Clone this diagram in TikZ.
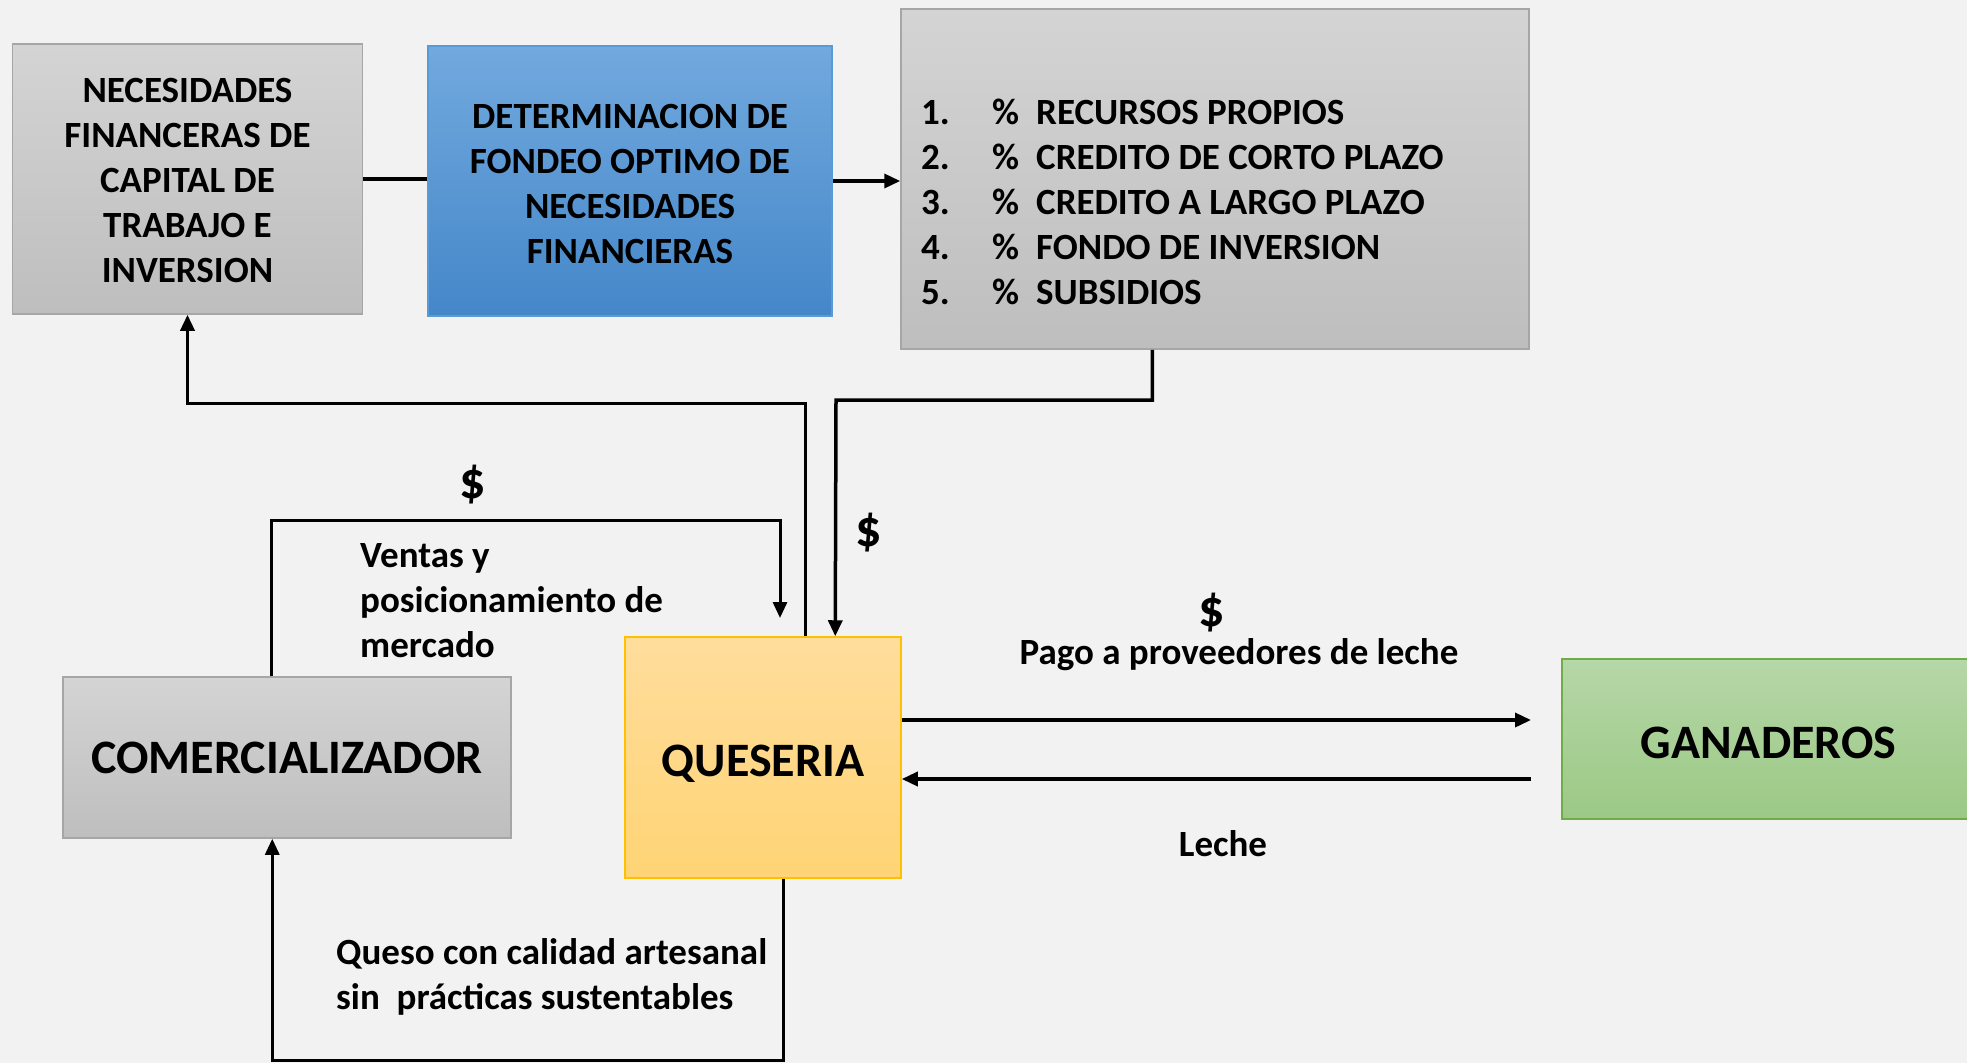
\documentclass[tikz,border=0pt]{standalone}
\usepackage{fontspec}
\setmainfont{Carlito}
\usetikzlibrary{arrows.meta,calc}
\definecolor{bgcol}{HTML}{F2F2F2}
\definecolor{graytop}{HTML}{D4D4D4}
\definecolor{graybot}{HTML}{BEBEBE}
\definecolor{grayedge}{HTML}{A6A6A6}
\definecolor{bluetop}{HTML}{72A9DE}
\definecolor{bluebot}{HTML}{4487C9}
\definecolor{blueedge}{HTML}{5B9BD5}
\definecolor{yeltop}{HTML}{FFDD9C}
\definecolor{yelbot}{HTML}{FFD475}
\definecolor{yeledge}{HTML}{FFC000}
\definecolor{grntop}{HTML}{B6D7A8}
\definecolor{grnbot}{HTML}{9BC985}
\definecolor{grnedge}{HTML}{70AD47}
\newcommand{\lowerby}[2]{\raisebox{-#1}[\height][\depth]{#2}}
\begin{document}
\begin{tikzpicture}[x=1pt,y=-1pt,
  box/.style={draw, line width=1.5pt, inner sep=0pt, align=center, font=\bfseries\fontsize{37}{45}\selectfont},
  graybox/.style={box, draw=grayedge, top color=graytop, bottom color=graybot},
  bigtxt/.style={font=\bfseries\fontsize{48}{56}\selectfont},
  conn/.style={line width=3.5pt, draw=black},
  tip/.style={-{Triangle[length=16pt,width=14pt]}},
  lbl/.style={font=\bfseries\fontsize{37}{45}\selectfont, inner sep=0pt, align=left},
  dollar/.style={font=\bfseries\fontsize{52}{56}\selectfont, inner sep=0pt}]
\fill[bgcol] (0,0) rectangle (1967,1063);
\useasboundingbox (0,0) rectangle (1967,1063);

% boxes
\node[graybox, minimum width=350pt, minimum height=270pt] (nec) at (187.5,179)
  {\lowerby{4pt}{\begin{tabular}{@{}c@{}}NECESIDADES\\FINANCERAS DE\\CAPITAL DE\\TRABAJO E\\INVERSION\end{tabular}}};
\node[box, draw=blueedge, top color=bluetop, bottom color=bluebot, minimum width=404pt, minimum height=270pt] (det) at (630,181)
  {\lowerby{6pt}{\begin{tabular}{@{}c@{}}DETERMINACION DE\\FONDEO OPTIMO DE\\NECESIDADES\\FINANCIERAS\end{tabular}}};
\node[graybox, minimum width=628pt, minimum height=340pt] (list) at (1215,179) {};
\node[anchor=west, inner sep=0pt, font=\bfseries\fontsize{37}{45}\selectfont] (listtxt) at (921,205)
  {\begin{tabular}{@{}p{71pt}@{}p{44pt}@{}l@{}}
   1. & \% & RECURSOS PROPIOS\\
   2. & \% & CREDITO DE CORTO PLAZO\\
   3. & \% & CREDITO A LARGO PLAZO\\
   4. & \% & FONDO DE INVERSION\\
   5. & \% & SUBSIDIOS
   \end{tabular}};
\node[graybox, bigtxt, minimum width=448pt, minimum height=161pt] (com) at (287,757.5) {COMERCIALIZADOR};
\node[box, bigtxt, draw=yeledge, top color=yeltop, bottom color=yelbot, minimum width=276pt, minimum height=241pt, text depth=0pt] (que) at (763,757.5) {\lowerby{3pt}{QUESERIA}};
\node[box, bigtxt, draw=grnedge, top color=grntop, bottom color=grnbot, minimum width=413pt, minimum height=160pt, text width=413pt] (gan) at (1768.5,739) {\lowerby{4pt}{GANADEROS}};

% coordinates for connector corners and free ends
\coordinate (c1) at (836,400);
\coordinate (c2) at (780,520);
\coordinate (c2tip) at (780,618);
\coordinate (g1) at (1531,720);
\coordinate (g2) at (1531,779);

% connectors
\draw[conn] (nec.east) -- (nec.east -| det.west);
\draw[conn, tip] (det.east) -- (det.east -| list.west);
\draw[conn, tip] ([xshift=252pt]list.south west) |- (c1) -- ([xshift=211pt]que.north west);
\draw[conn, tip] ([xshift=181pt]que.north west) -- ++(0,-233) -| (nec.south);
\draw[conn, line width=3pt, tip] ([xshift=209pt]com.north west) |- (c2) -- (c2tip);
\draw[conn, line width=3pt, tip] ([xshift=159pt]que.south west) -- ++(0,182) -| ([xshift=210pt]com.south west);
\draw[conn, tip] (que.east |- g1) -- (g1);
\draw[conn, tip] (g2) -- (que.east |- g2);

% labels
\node[dollar] (d1) at (473,485) {\$};
\node[dollar] (d2) at (869,533) {\$};
\node[dollar] (d3) at (1212,613) {\$};
\node[lbl, anchor=west] (ventas) at (360,601) {Ventas y\\posicionamiento de\\mercado};
\node[lbl, anchor=west] (queso) at (336,977) {Queso con calidad artesanal\\sin\ \ prácticas sustentables};
\node[lbl] (pago) at (1239,655) {Pago a proveedores de leche};
\node[lbl] (leche) at (1223,844) {Leche};
\end{tikzpicture}
\end{document}
